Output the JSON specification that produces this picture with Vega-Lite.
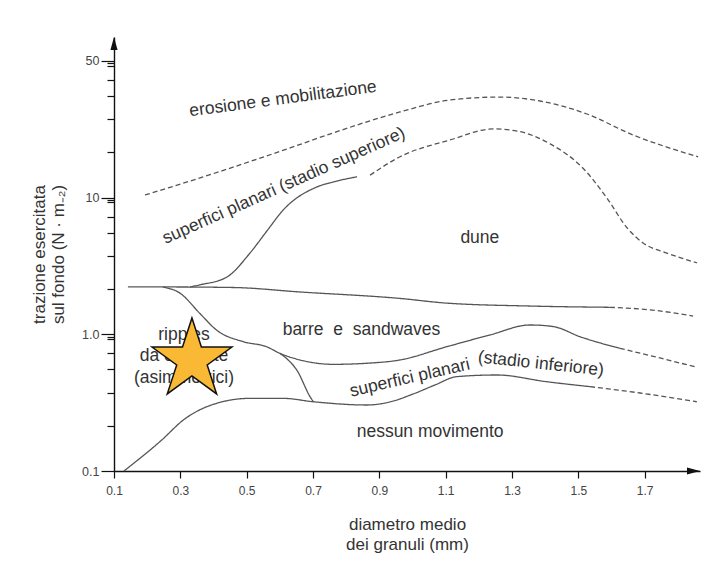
{
  "$schema": "https://vega.github.io/schema/vega-lite/v6.json",
  "width": 586,
  "height": 434,
  "autosize": "none",
  "padding": {"left": 114, "top": 37, "right": 8, "bottom": 90},
  "background": "white",
  "config": {"view": {"stroke": null}, "font": "Liberation Sans"},
  "datasets": {
    "curves": [
      {"seg": "A", "dash": "d", "x": 0.1935, "y": 10.45},
      {"seg": "A", "dash": "d", "x": 0.329, "y": 13.2},
      {"seg": "A", "dash": "d", "x": 0.459, "y": 16.7},
      {"seg": "A", "dash": "d", "x": 0.631, "y": 23.1},
      {"seg": "A", "dash": "d", "x": 0.760, "y": 29.7},
      {"seg": "A", "dash": "d", "x": 0.962, "y": 42.3},
      {"seg": "A", "dash": "d", "x": 1.113, "y": 51.8},
      {"seg": "A", "dash": "d", "x": 1.264, "y": 54.4},
      {"seg": "A", "dash": "d", "x": 1.384, "y": 50.9},
      {"seg": "A", "dash": "d", "x": 1.526, "y": 40.9},
      {"seg": "A", "dash": "d", "x": 1.665, "y": 28.7},
      {"seg": "A", "dash": "d", "x": 1.767, "y": 23.4},
      {"seg": "A", "dash": "d", "x": 1.861, "y": 19.9},
      {"seg": "B", "dash": "d", "x": 0.872, "y": 14.6},
      {"seg": "B", "dash": "d", "x": 0.962, "y": 19.9},
      {"seg": "B", "dash": "d", "x": 1.113, "y": 26.4},
      {"seg": "B", "dash": "d", "x": 1.243, "y": 31.8},
      {"seg": "B", "dash": "d", "x": 1.315, "y": 30.7},
      {"seg": "B", "dash": "d", "x": 1.415, "y": 24.7},
      {"seg": "B", "dash": "d", "x": 1.514, "y": 16.4},
      {"seg": "B", "dash": "d", "x": 1.586, "y": 9.93},
      {"seg": "B", "dash": "d", "x": 1.647, "y": 6.0},
      {"seg": "B", "dash": "d", "x": 1.695, "y": 4.66},
      {"seg": "B", "dash": "d", "x": 1.767, "y": 3.93},
      {"seg": "B", "dash": "d", "x": 1.858, "y": 3.33},
      {"seg": "C", "dash": "s", "x": 0.329, "y": 2.22},
      {"seg": "C", "dash": "s", "x": 0.359, "y": 2.30},
      {"seg": "C", "dash": "s", "x": 0.441, "y": 2.63},
      {"seg": "C", "dash": "s", "x": 0.510, "y": 3.93},
      {"seg": "C", "dash": "s", "x": 0.561, "y": 5.70},
      {"seg": "C", "dash": "s", "x": 0.610, "y": 8.11},
      {"seg": "C", "dash": "s", "x": 0.712, "y": 11.97},
      {"seg": "C", "dash": "s", "x": 0.760, "y": 13.0},
      {"seg": "C", "dash": "s", "x": 0.833, "y": 14.2},
      {"seg": "D", "dash": "s", "x": 0.142, "y": 2.22},
      {"seg": "D", "dash": "s", "x": 0.254, "y": 2.22},
      {"seg": "D", "dash": "s", "x": 0.459, "y": 2.20},
      {"seg": "D", "dash": "s", "x": 0.661, "y": 2.04},
      {"seg": "D", "dash": "s", "x": 0.962, "y": 1.83},
      {"seg": "D", "dash": "s", "x": 1.104, "y": 1.69},
      {"seg": "D", "dash": "s", "x": 1.354, "y": 1.61},
      {"seg": "D", "dash": "s", "x": 1.595, "y": 1.576},
      {"seg": "D2", "dash": "d", "x": 1.595, "y": 1.576},
      {"seg": "D2", "dash": "d", "x": 1.716, "y": 1.51},
      {"seg": "D2", "dash": "d", "x": 1.846, "y": 1.36},
      {"seg": "E", "dash": "s", "x": 0.247, "y": 2.22},
      {"seg": "E", "dash": "s", "x": 0.299, "y": 2.00},
      {"seg": "E", "dash": "s", "x": 0.359, "y": 1.42},
      {"seg": "E", "dash": "s", "x": 0.410, "y": 1.07},
      {"seg": "E", "dash": "s", "x": 0.490, "y": 0.883},
      {"seg": "E", "dash": "s", "x": 0.560, "y": 0.811},
      {"seg": "E", "dash": "s", "x": 0.600, "y": 0.726},
      {"seg": "E", "dash": "s", "x": 0.661, "y": 0.649},
      {"seg": "E", "dash": "s", "x": 0.761, "y": 0.603},
      {"seg": "E", "dash": "s", "x": 0.862, "y": 0.614},
      {"seg": "E", "dash": "s", "x": 0.962, "y": 0.649},
      {"seg": "E", "dash": "s", "x": 1.103, "y": 0.811},
      {"seg": "E", "dash": "s", "x": 1.234, "y": 0.99},
      {"seg": "E", "dash": "s", "x": 1.354, "y": 1.17},
      {"seg": "E", "dash": "s", "x": 1.424, "y": 1.14},
      {"seg": "E", "dash": "s", "x": 1.505, "y": 0.96},
      {"seg": "E", "dash": "s", "x": 1.625, "y": 0.790},
      {"seg": "E2", "dash": "d", "x": 1.625, "y": 0.790},
      {"seg": "E2", "dash": "d", "x": 1.746, "y": 0.671},
      {"seg": "E2", "dash": "d", "x": 1.857, "y": 0.574},
      {"seg": "F", "dash": "s", "x": 0.600, "y": 0.726},
      {"seg": "F", "dash": "s", "x": 0.625, "y": 0.649},
      {"seg": "F", "dash": "s", "x": 0.651, "y": 0.548},
      {"seg": "F", "dash": "s", "x": 0.691, "y": 0.350},
      {"seg": "F", "dash": "s", "x": 0.701, "y": 0.321},
      {"seg": "G", "dash": "s", "x": 0.130, "y": 0.1},
      {"seg": "G", "dash": "s", "x": 0.244, "y": 0.1686},
      {"seg": "G", "dash": "s", "x": 0.309, "y": 0.236},
      {"seg": "G", "dash": "s", "x": 0.410, "y": 0.313},
      {"seg": "G", "dash": "s", "x": 0.510, "y": 0.340},
      {"seg": "G", "dash": "s", "x": 0.610, "y": 0.340},
      {"seg": "G", "dash": "s", "x": 0.701, "y": 0.321},
      {"seg": "G", "dash": "s", "x": 0.862, "y": 0.304},
      {"seg": "G", "dash": "s", "x": 0.932, "y": 0.320},
      {"seg": "G", "dash": "s", "x": 1.002, "y": 0.366},
      {"seg": "G", "dash": "s", "x": 1.068, "y": 0.426},
      {"seg": "G", "dash": "s", "x": 1.133, "y": 0.490},
      {"seg": "G", "dash": "s", "x": 1.254, "y": 0.504},
      {"seg": "G", "dash": "s", "x": 1.404, "y": 0.450},
      {"seg": "G", "dash": "s", "x": 1.535, "y": 0.414},
      {"seg": "G2", "dash": "d", "x": 1.535, "y": 0.414},
      {"seg": "G2", "dash": "d", "x": 1.686, "y": 0.372},
      {"seg": "G2", "dash": "d", "x": 1.857, "y": 0.321}
    ]
  },
  "encoding": {
    "x": {
      "field": "x", "type": "quantitative",
      "scale": {"domain": [0.1, 1.8667], "nice": false, "zero": false},
      "axis": {
        "values": [0.1, 0.3, 0.5, 0.7, 0.9, 1.1, 1.3, 1.5, 1.7],
        "format": ".1f",
        "grid": false,
        "labelFlush": false,
        "labelOverlap": false,
        "labelBound": false,
        "tickSize": 7,
        "tickColor": "#111",
        "tickWidth": 1.2,
        "domainColor": "#111",
        "domainWidth": 1.4,
        "labelFontSize": 12,
        "labelColor": "#444",
        "labelPadding": 7,
        "title": ["diametro medio", "dei granuli (mm)"],
        "titleFontSize": 17,
        "titleFontWeight": "normal",
        "titleColor": "#333",
        "titleLineHeight": 20,
        "titlePadding": 20
      }
    },
    "y": {
      "field": "y", "type": "quantitative",
      "scale": {"type": "log", "domain": [0.1, 149.6], "nice": false},
      "axis": {
        "values": [0.1, 0.215, 0.375, 0.555, 0.725, 0.925, 0.963, 1, 2.15, 3.75, 5.55, 7.25, 9.25, 9.63, 10, 21.5, 37.5, 55.5, 72.5, 92.5, 96.3, 100],
        "labelExpr": "datum.value == 100 ? '50' : datum.value == 10 ? '10' : datum.value == 1 ? '1.0' : datum.value == 0.1 ? '0.1' : ''",
        "grid": false,
        "labelOverlap": false,
        "labelBound": false,
        "tickSize": {"condition": {"test": "datum.value == 0.1 || datum.value == 1 || datum.value == 10 || datum.value == 100", "value": 13}, "value": 7},
        "tickColor": "#111",
        "tickWidth": 1.2,
        "domainColor": "#111",
        "domainWidth": 1.4,
        "labelFontSize": 12.5,
        "labelColor": "#444",
        "labelPadding": 2,
        "title": ["trazione esercitata", "sul fondo (N · m₋₂)"],
        "titleFontSize": 17,
        "titleFontWeight": "normal",
        "titleColor": "#333",
        "titleLineHeight": 19,
        "titlePadding": 14
      }
    }
  },
  "layer": [
    {
      "data": {"name": "curves"},
      "mark": {"type": "line", "interpolate": "monotone", "stroke": "#555", "strokeWidth": 1.3},
      "encoding": {
        "detail": {"field": "seg"},
        "strokeDash": {"field": "dash", "type": "nominal", "scale": {"domain": ["s", "d"], "range": [[1, 0], [5, 3]]}, "legend": null}
      }
    },
    {
      "data": {"values": [{"label": "erosione e mobilitazione", "x": 0.6095, "y": 52.6}]},
      "mark": {"type": "text", "angle": -7.5, "fontSize": 17.5, "color": "#333", "align": "center", "baseline": "middle"},
      "encoding": {"text": {"field": "label"}}
    },
    {
      "data": {"values": [{"label": "superfici planari (stadio superiore)", "x": 0.6125, "y": 12.2}]},
      "mark": {"type": "text", "angle": -24, "fontSize": 17.5, "color": "#333", "align": "center", "baseline": "middle"},
      "encoding": {"text": {"field": "label"}}
    },
    {
      "data": {"values": [{"label": "superfici planari", "x": 0.992, "y": 0.479}]},
      "mark": {"type": "text", "angle": -13, "fontSize": 17.5, "color": "#333", "align": "center", "baseline": "middle"},
      "encoding": {"text": {"field": "label"}}
    },
    {
      "data": {"values": [{"label": "(stadio inferiore)", "x": 1.387, "y": 0.607}]},
      "mark": {"type": "text", "angle": 6, "fontSize": 17.5, "color": "#333", "align": "center", "baseline": "middle"},
      "encoding": {"text": {"field": "label"}}
    },
    {
      "data": {"values": [
        {"label": "dune", "x": 1.203, "y": 5.06},
        {"label": "barre\u00a0\u00a0e\u00a0\u00a0sandwaves", "x": 0.846, "y": 1.075},
        {"label": "ripples\nda corrente\n(asimmetrici)", "x": 0.311, "y": 0.989},
        {"label": "nessun movimento", "x": 1.053, "y": 0.193}
      ]},
      "mark": {"type": "text", "fontSize": 17.5, "color": "#333", "align": "center", "baseline": "middle", "lineBreak": "\n", "lineHeight": 21.5},
      "encoding": {"text": {"field": "label"}}
    },
    {
      "data": {"values": [{"x": 0.335, "y": 0.649}]},
      "mark": {"type": "point", "shape": "M0,-1L0.2245,-0.309L0.951,-0.309L0.363,0.118L0.588,0.809L0,0.382L-0.588,0.809L-0.363,0.118L-0.951,-0.309L-0.2245,-0.309Z", "size": 7056, "filled": true, "fill": "#F9B934", "stroke": "#111", "strokeWidth": 1.5, "opacity": 1}
    },
    {
      "data": {"values": [{"x": 0.1, "y": 149.6}]},
      "mark": {"type": "point", "shape": "M0,0L0.55,2L-0.55,2Z", "size": 169, "filled": true, "fill": "#111", "strokeWidth": 0, "opacity": 1}
    },
    {
      "data": {"values": [{"x": 1.8667, "y": 0.1}]},
      "mark": {"type": "point", "shape": "M0,0L-2,-0.55L-2,0.55Z", "size": 169, "filled": true, "fill": "#111", "strokeWidth": 0, "opacity": 1}
    }
  ]
}
